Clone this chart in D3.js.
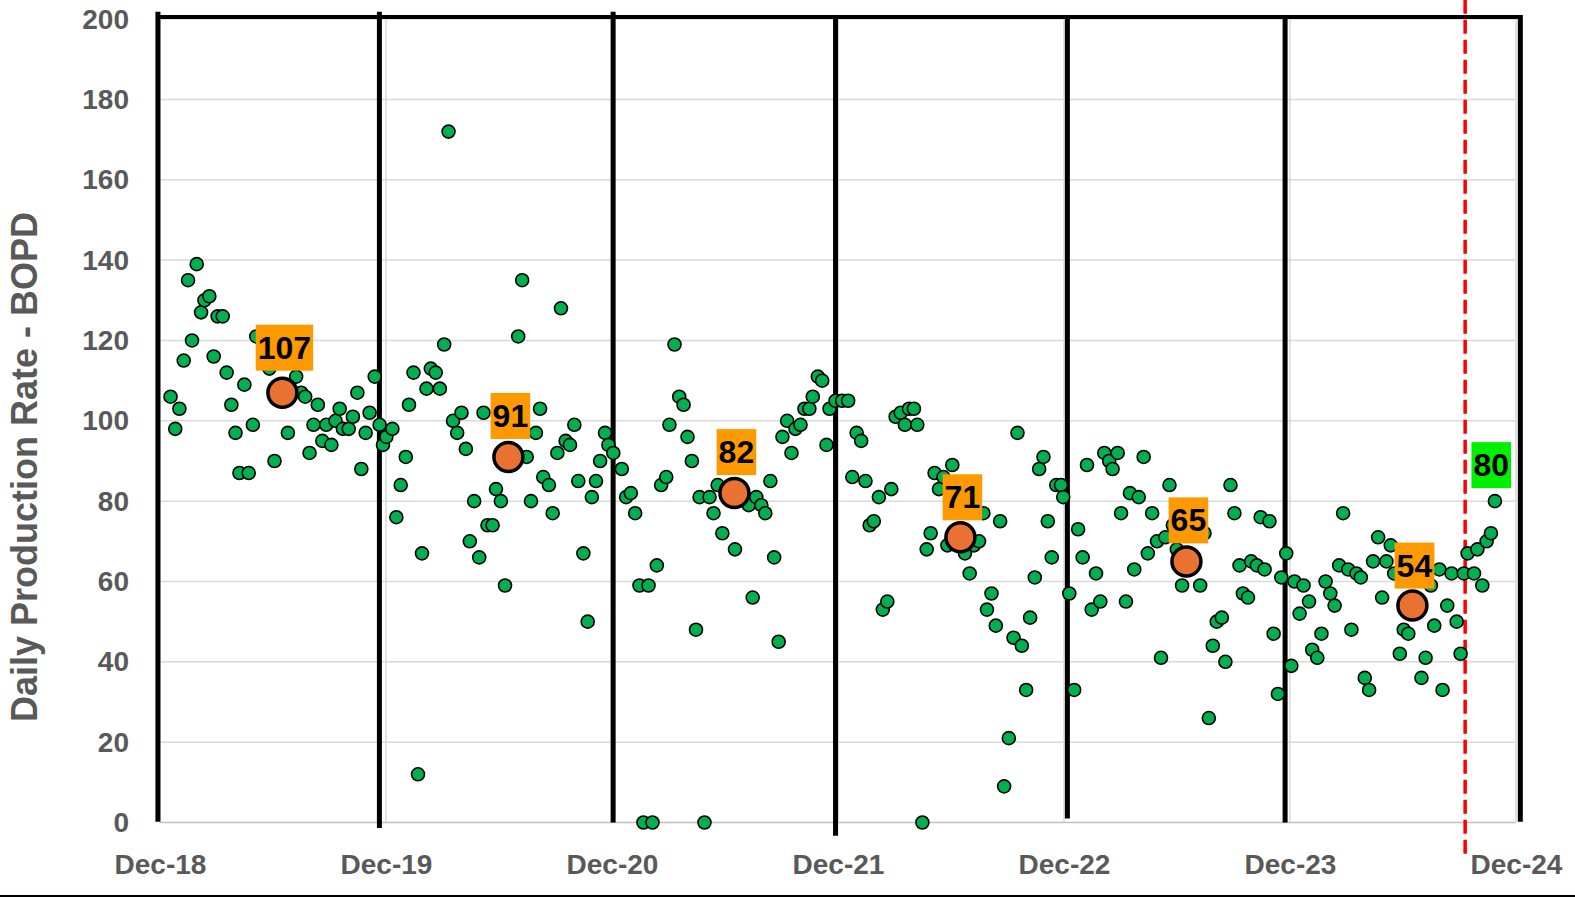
<!DOCTYPE html>
<html><head><meta charset="utf-8">
<script src="https://cdn.jsdelivr.net/npm/d3@7"></script>
<style>body{margin:0;background:#fff}svg{display:block}</style>
</head><body><svg id="c" width="1575" height="898"></svg>
<script>
// x values are months since Dec-2018
const xTickMonths=[0,12,24,36,48,60,72];
const xTickLabels=["Dec-18","Dec-19","Dec-20","Dec-21","Dec-22","Dec-23","Dec-24"];
const yTicks=[0,20,40,60,80,100,120,140,160,180,200];
const yTitle="Daily Production Rate - BOPD";

const months=[
0.56,0.81,1.03,1.26,1.49,1.70,1.95,2.18,2.36,2.62,2.85,3.06,3.33,3.54,3.79,4.01,4.22,4.48,4.71,4.93,5.11,5.81,6.08,6.79,7.23,7.50,7.71,7.94,8.15,8.38,8.62,8.83,9.10,9.32,9.54,9.71,10.02,10.24,10.48,10.69,10.92,11.13,11.40,11.66,11.84,12.02,
12.34,12.55,12.78,13.05,13.22,13.46,13.70,13.91,14.15,14.38,14.64,14.86,15.09,15.32,15.56,15.78,16.01,16.24,16.45,16.68,16.95,17.18,17.39,17.66,17.84,18.10,18.32,19.02,19.23,19.47,19.70,19.96,20.18,20.35,20.65,20.85,21.10,21.29,21.54,21.77,22.00,22.21,22.48,22.71,22.93,23.15,23.37,23.63,23.81,24.07,
24.52,24.75,25.00,25.23,25.46,25.67,25.94,26.15,26.38,26.61,26.88,27.05,27.32,27.57,27.80,28.01,28.24,28.46,28.65,28.91,29.18,29.39,29.61,29.86,30.53,31.26,31.47,31.66,31.93,32.14,32.41,32.61,32.85,33.05,33.30,33.53,33.74,34.01,34.22,34.48,34.66,34.93,35.16,35.39,35.55,35.87,
36.22,36.54,36.76,36.99,37.23,37.46,37.68,37.90,38.17,38.38,38.62,38.83,39.06,39.33,39.55,39.77,40.03,40.21,40.48,40.71,40.92,41.13,41.36,41.60,41.81,42.07,42.74,42.99,43.22,43.49,43.72,43.91,44.15,44.38,44.61,44.82,45.07,45.32,45.53,45.76,45.99,46.20,46.45,46.68,46.91,47.14,47.35,47.59,47.84,47.96,
48.28,48.54,48.75,48.99,49.22,49.47,49.70,49.93,50.14,50.40,50.58,50.85,51.03,51.29,51.50,51.73,51.97,52.23,52.45,52.68,52.94,53.15,53.38,53.60,53.78,53.99,54.27,55.23,55.46,55.69,55.90,56.11,56.38,56.57,56.84,57.05,57.32,57.50,57.77,57.94,58.24,58.44,58.65,58.91,59.13,59.36,59.54,59.80,
60.07,60.24,60.51,60.72,61.01,61.18,61.45,61.67,61.89,62.14,62.37,62.61,62.82,63.09,63.26,63.53,63.76,63.97,64.20,64.41,64.68,64.89,65.12,65.35,65.53,65.83,66.04,66.28,66.98,67.20,67.48,67.66,67.93,68.10,68.35,68.58,68.85,69.06,69.23,69.43,69.77,69.95,70.21,70.44,70.67,70.88];
const rates=[
106,98,103,115,135,120,139,127,130,131,116,126,126,112,104,97,87,109,87,99,121,113,90,97,111,107,106,92,99,104,95,99,94,100,103,98,98,101,107,88,97,102,111,99,94,96,
98,76,84,91,104,112,12,67,108,113,112,108,119,172,100,97,102,93,70,80,66,102,74,74,83,80,59,121,135,91,80,97,103,86,84,77,92,128,95,94,99,85,67,50,81,85,90,97,94,92,
88,81,82,77,59,0,59,0,64,84,86,99,119,106,104,96,90,48,81,0,81,77,84,72,68,79,56,81,79,77,85,66,45,96,100,92,98,99,103,103,106,111,110,94,103,105,
105,105,86,97,95,85,74,75,81,53,55,83,101,102,99,103,103,99,0,68,72,87,83,86,69,89,67,62,69,70,77,53,57,49,75,9,21,46,97,44,33,51,61,88,91,75,66,84,84,81,
57,33,73,66,89,53,62,55,92,90,88,92,77,55,82,63,81,91,67,77,70,41,71,84,74,68,59,59,72,26,44,50,51,40,84,77,64,57,56,65,64,76,63,75,47,32,61,67,
39,60,52,59,55,43,41,47,60,57,54,64,77,63,48,62,61,36,33,65,71,56,65,69,62,42,48,47,36,41,59,49,63,33,54,62,50,42,62,67,62,68,59,70,72,80];

const avgMonths=[6.5,18.5,30.5,42.5,54.5,66.5];
const avgRates=[107,91,82,71,65,54];
const avgLabelLift=[45,41,41,40,41,40];

// hand-drawn year separator lines (months) and their vertical extent (BOPD)
const dividerMonths=[-0.11,11.65,24.06,35.87,48.18,59.74,72.23];
const dividerTop=[201.8,201.8,201.8,201.0,201.0,201.0,201.0];
const dividerBottom=[0.2,-1.4,0,-3.3,1.0,0,0.2];

const cutoffMonth=69.3;
const cutoffTop=204.8, cutoffBottom=-8.1;
const latestMonth=70.88, latestRate=80;

const svg=d3.select("#c");
svg.append("rect").attr("width",1575).attr("height",898).attr("fill","#fff");
const x=d3.scaleLinear().domain([0,72]).range([160,1516]);
const y=d3.scaleLinear().domain([0,200]).range([822.5,19.1]);
const font="'Liberation Sans', Arial, sans-serif";
const gray="#595959";

// horizontal gridlines
svg.append("g").selectAll("line").data(yTicks).join("line")
  .attr("x1",x(0)).attr("x2",x(72)).attr("y1",d=>y(d)).attr("y2",d=>y(d))
  .attr("stroke",d=>d===0?"#bfbfbf":"#d9d9d9").attr("stroke-width",1.5);
// vertical gridlines
svg.append("g").selectAll("line").data(xTickMonths).join("line")
  .attr("x1",d=>x(d)).attr("x2",d=>x(d)).attr("y1",y(200)).attr("y2",y(0))
  .attr("stroke","#d9d9d9").attr("stroke-width",1.5);

// y axis
const yAxis=d3.axisLeft(y).tickValues(yTicks).tickSize(0).tickPadding(0);
const gy=svg.append("g").attr("transform","translate(129,0)").call(yAxis);
gy.select(".domain").remove();
gy.selectAll("text").attr("font-family",font).attr("font-weight","bold").attr("font-size",28).attr("fill",gray);

// x axis
const xAxis=d3.axisBottom(x).tickValues(xTickMonths).tickFormat((d,i)=>xTickLabels[i]).tickSize(0).tickPadding(0);
const gx=svg.append("g").attr("transform","translate(0,854)").call(xAxis);
gx.select(".domain").remove();
gx.selectAll("text").attr("font-family",font).attr("font-weight","bold").attr("font-size",28).attr("fill",gray).attr("dy","0.71em");

// y title
svg.append("text").attr("transform",`translate(37,${y(88.5)}) rotate(-90)`)
  .attr("text-anchor","middle").attr("font-family",font).attr("font-weight","bold")
  .attr("font-size",36).attr("fill",gray).text(yTitle);

// top border
svg.append("line").attr("x1",x(dividerMonths[0])).attr("x2",x(dividerMonths[6]))
  .attr("y1",y(200.5)).attr("y2",y(200.5)).attr("stroke","#000").attr("stroke-width",4);

// divider lines
svg.append("g").selectAll("line").data(dividerMonths).join("line")
  .attr("x1",d=>x(d)).attr("x2",d=>x(d))
  .attr("y1",(d,i)=>y(dividerTop[i])).attr("y2",(d,i)=>y(dividerBottom[i]))
  .attr("stroke","#000").attr("stroke-width",5);

// cutoff line
svg.append("line").attr("x1",x(cutoffMonth)).attr("x2",x(cutoffMonth))
  .attr("y1",y(cutoffTop)).attr("y2",y(cutoffBottom))
  .attr("stroke","#ff0000").attr("stroke-width",3.5).attr("stroke-dasharray","14,6");

// scatter points
svg.append("g").selectAll("circle").data(months).join("circle")
  .attr("cx",d=>x(d)).attr("cy",(d,i)=>y(rates[i])).attr("r",6.5)
  .attr("fill","#00b050").attr("stroke","#000").attr("stroke-width",1.6);

// averages
svg.append("g").selectAll("circle").data(avgMonths).join("circle")
  .attr("cx",d=>x(d)).attr("cy",(d,i)=>y(avgRates[i])).attr("r",14.5)
  .attr("fill","#e97132").attr("stroke","#000").attr("stroke-width",3.5);

function label(mx,val,txt,bg,dyOff){
  const g=svg.append("g");
  const t=g.append("text").attr("x",x(mx)+2).attr("y",y(val)-dyOff)
    .attr("text-anchor","middle").attr("dominant-baseline","central")
    .attr("font-family",font).attr("font-weight","bold").attr("font-size",32).attr("fill","#000").text(txt);
  const bb=t.node().getBBox();
  g.insert("rect","text").attr("x",bb.x-2).attr("y",y(val)-dyOff-23).attr("width",bb.width+4).attr("height",46).attr("fill",bg);
}
avgMonths.forEach((m,i)=>label(m,avgRates[i],String(avgRates[i]),"#ff9900",avgLabelLift[i]));
label(latestMonth-0.3,latestRate,String(latestRate),"#00f000",36);

// frame edge at the bottom of the picture
svg.append("line").attr("x1",0).attr("x2",1575).attr("y1",896).attr("y2",896)
  .attr("stroke","#000").attr("stroke-width",2);
</script></body></html>
